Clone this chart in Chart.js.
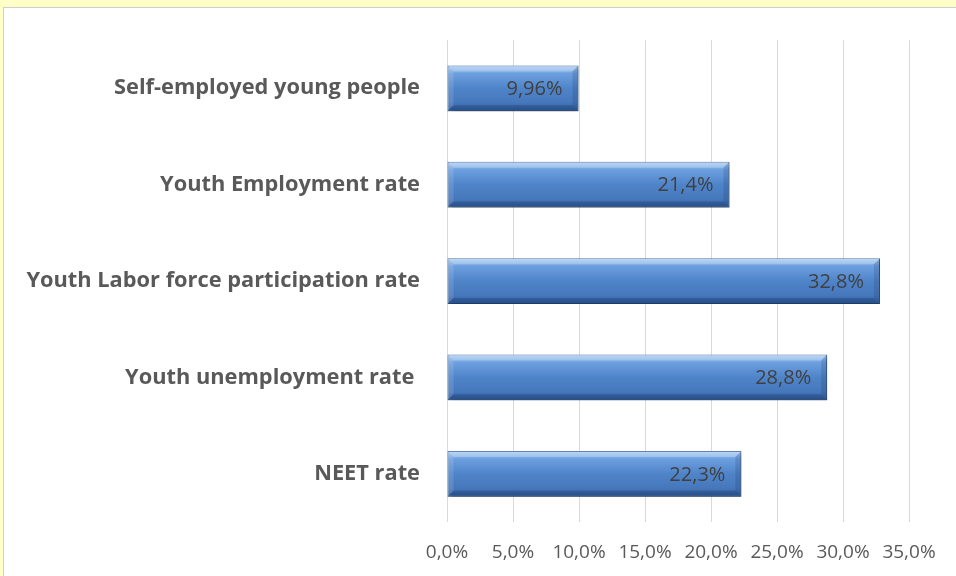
<!DOCTYPE html>
<html>
<head>
<meta charset="utf-8">
<script src="https://cdn.jsdelivr.net/npm/chart.js@4/dist/chart.umd.min.js"></script>
<style>
  html, body { margin: 0; padding: 0; background: #ffffc8; overflow: hidden; }
  #frame { position: absolute; left: 3px; top: 7px; width: 970px; height: 590px; background: #fff; border: 1px solid #cfcfcf; }
  #wrap { position: absolute; left: 0; top: 0; width: 956px; height: 576px; }
</style>
</head>
<body>
<div id="frame"></div>
<div id="wrap"><canvas id="myChart" width="956" height="576"></canvas></div>
<script>
var categories = ["Self-employed young people", "Youth Employment rate", "Youth Labor force participation rate", "Youth unemployment rate ", "NEET rate"];
var values = [9.96, 21.4, 32.8, 28.8, 22.3];
var valueLabels = ["9,96%", "21,4%", "32,8%", "28,8%", "22,3%"];
var tickLabels = ["0,0%", "5,0%", "10,0%", "15,0%", "20,0%", "25,0%", "30,0%", "35,0%"];

var barFrac = 0.475;

function barFill(ctx) {
  var chart = ctx.chart;
  var yScale = chart.scales.y;
  if (!yScale || !chart.chartArea) return "#4f81bd";
  var c = yScale.getPixelForValue(ctx.dataIndex);
  var h = (chart.chartArea.bottom - chart.chartArea.top) / categories.length * barFrac;
  var g = chart.ctx.createLinearGradient(0, c - h / 2, 0, c + h / 2);
  g.addColorStop(0, "#a9cdf5");
  g.addColorStop(0.18, "#6c9fdf");
  g.addColorStop(0.5, "#4f84c9");
  g.addColorStop(0.82, "#4677bb");
  g.addColorStop(1, "#2c5a94");
  return g;
}

// shadow under the bars
var shadowPlugin = {
  id: "shadow",
  beforeDatasetDraw: function(chart) {
    var c = chart.ctx;
    c.save();
    c.shadowColor = "rgba(0,0,0,0.35)";
    c.shadowOffsetX = 2;
    c.shadowOffsetY = 3;
    c.shadowBlur = 4;
  },
  afterDatasetDraw: function(chart) {
    chart.ctx.restore();
  }
};

// bevel edges + value labels
var labelPlugin = {
  id: "valueLabels",
  afterDatasetsDraw: function(chart) {
    var c = chart.ctx;
    var meta = chart.getDatasetMeta(0);
    meta.data.forEach(function(bar, i) {
      var left = bar.base, right = bar.x;
      var top = bar.y - bar.height / 2, bottom = bar.y + bar.height / 2;
      var b = 6;
      c.save();
      // top bevel
      c.fillStyle = "rgba(255,255,255,0.25)";
      c.beginPath();
      c.moveTo(left, top); c.lineTo(right, top); c.lineTo(right - b, top + b); c.lineTo(left + b, top + b);
      c.closePath(); c.fill();
      // left bevel
      c.fillStyle = "rgba(255,255,255,0.12)";
      c.beginPath();
      c.moveTo(left, top); c.lineTo(left + b, top + b); c.lineTo(left + b, bottom - b); c.lineTo(left, bottom);
      c.closePath(); c.fill();
      // right bevel
      c.fillStyle = "rgba(20,50,100,0.18)";
      c.beginPath();
      c.moveTo(right, top); c.lineTo(right, bottom); c.lineTo(right - b, bottom - b); c.lineTo(right - b, top + b);
      c.closePath(); c.fill();
      // bottom bevel
      c.fillStyle = "rgba(20,50,100,0.28)";
      c.beginPath();
      c.moveTo(left, bottom); c.lineTo(left + b, bottom - b); c.lineTo(right - b, bottom - b); c.lineTo(right, bottom);
      c.closePath(); c.fill();

      c.font = "20px 'Open Sans'";
      c.fillStyle = "#404040";
      c.textAlign = "right";
      c.textBaseline = "middle";
      c.fillText(valueLabels[i], right - 16, bar.y + 1);
      c.restore();
    });
  }
};

new Chart("myChart", {
  type: "bar",
  data: {
    labels: categories,
    datasets: [{
      data: values,
      backgroundColor: barFill,
      borderColor: "#2f5d95",
      borderWidth: 1,
      borderSkipped: false,
      barPercentage: 1,
      categoryPercentage: barFrac
    }]
  },
  options: {
    indexAxis: "y",
    responsive: false,
    animation: false,
    devicePixelRatio: 1,
    layout: { padding: { top: 34, right: 47, left: 0, bottom: 0 } },
    plugins: { legend: { display: false }, tooltip: { enabled: false } },
    scales: {
      x: {
        min: 0,
        max: 35,
        afterBuildTicks: function(scale) {
          scale.ticks = tickLabels.map(function(t, i) { return { value: i * 5 }; });
        },
        ticks: {
          autoSkip: false,
          maxRotation: 0,
          padding: 19,
          color: "#595959",
          font: { family: "Open Sans", size: 19 },
          callback: function(v, i) { return tickLabels[i]; }
        },
        grid: { color: "#d9d9d9", lineWidth: 1, drawTicks: false },
        border: { display: false },
        afterFit: function(scale) { scale.height = 54; }
      },
      y: {
        ticks: {
          padding: 27,
          color: "#595959",
          font: { family: "Open Sans", size: 21.8, weight: "bold" }
        },
        grid: { display: false, drawTicks: false },
        border: { display: false },
        afterFit: function(scale) { scale.width = 447; }
      }
    }
  },
  plugins: [shadowPlugin, labelPlugin]
});
</script>
</body>
</html>
